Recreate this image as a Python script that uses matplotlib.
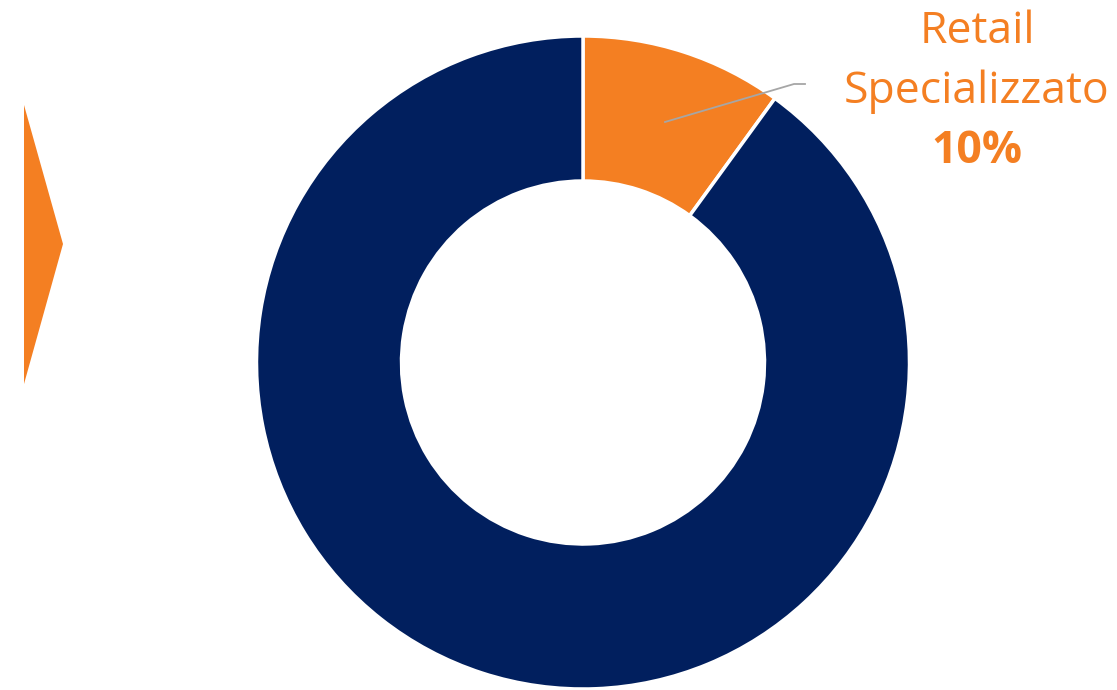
import matplotlib
matplotlib.use("Agg")
import matplotlib.pyplot as plt
from matplotlib.patches import Polygon

# Channel shares (%)
categories = ["Retail Specializzato", "Altro"]
shares = [10, 90]
colors = ["#F47F22", "#011F5E"]
label_color = "#F47F22"

W, H = 1117, 690
fig = plt.figure(figsize=(W / 100, H / 100), dpi=100)
ax = fig.add_axes([0, 0, 1, 1])

cx, cy = 583, H - 362.5
r_out, ring = 326.5, 145

ax.pie(shares, colors=colors, startangle=90, counterclock=False,
       center=(cx, cy), radius=r_out,
       wedgeprops=dict(width=ring, edgecolor="white", linewidth=2.5))

ax.set_xlim(0, W)
ax.set_ylim(0, H)
ax.set_aspect("equal")
ax.axis("off")

# decorative arrow marker at the left edge
arrow = Polygon([(24, H - 105), (63, H - 244), (24, H - 384)],
                closed=True, facecolor=label_color, edgecolor="none")
ax.add_patch(arrow)

# leader line from the orange slice to its label
ax.plot([665, 794, 805], [H - 122, H - 84, H - 84], color="#A6A6A6", lw=1.3)

fam = ["Open Sans", "DejaVu Sans"]
lines = categories[0].split(" ") + [f"{shares[0]}%"]
baselines = [43, 103, 163]
for i, (txt, yb) in enumerate(zip(lines, baselines)):
    ax.text(977, H - yb, txt, ha="center", va="baseline",
            fontsize=32, color=label_color, family=fam,
            fontweight="bold" if i == len(lines) - 1 else "normal")

fig.savefig("out.png", dpi=100)
